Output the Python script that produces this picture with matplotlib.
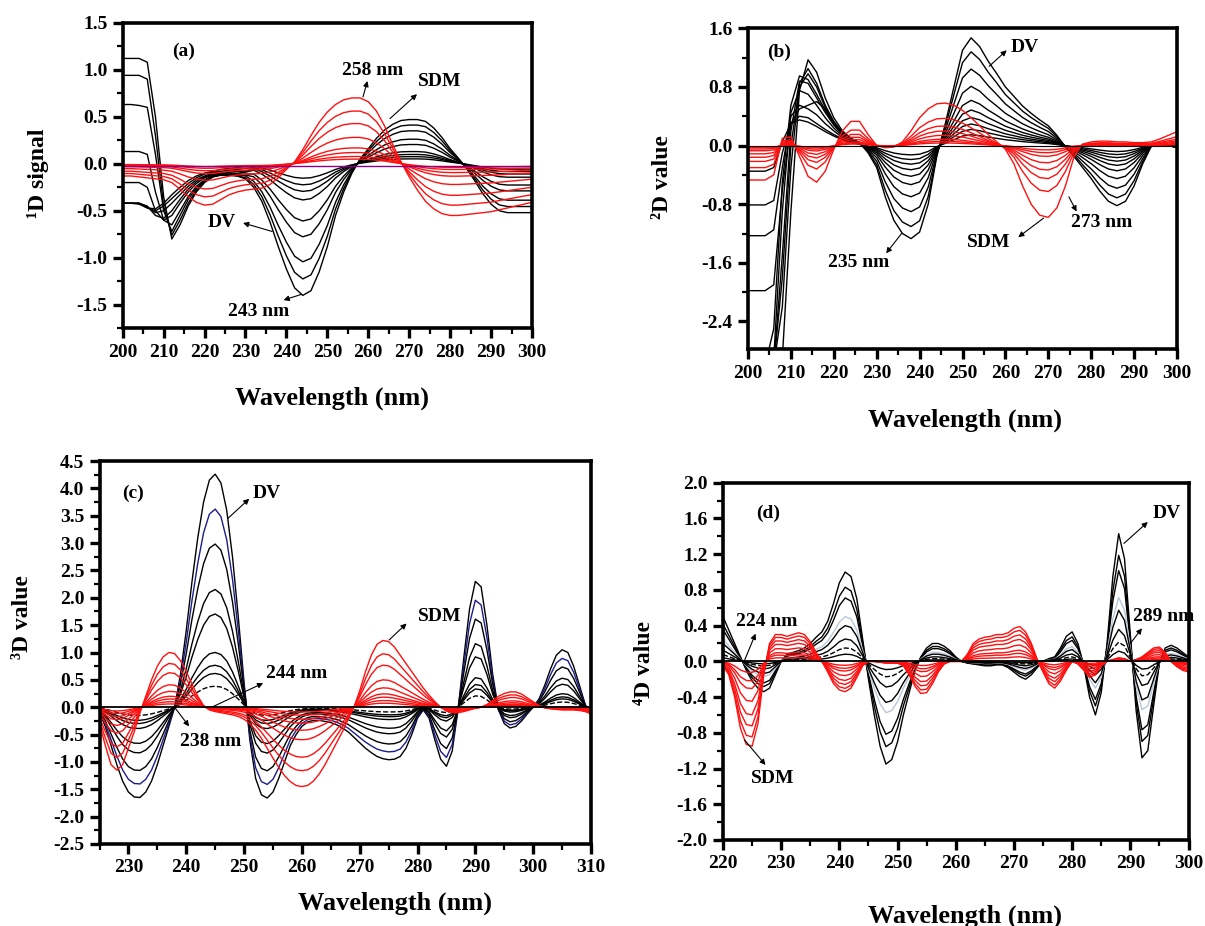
import numpy as np
import matplotlib
matplotlib.use('Agg')
import matplotlib.pyplot as plt
from matplotlib.ticker import MultipleLocator, FormatStrFormatter

plt.rcParams['font.family'] = ['Liberation Serif', 'DejaVu Serif']
plt.rcParams['font.weight'] = 'bold'
plt.rcParams['axes.unicode_minus'] = False

# ---------------- Panel (a): first derivative ----------------
wl_a_left = list(range(200, 231, 2))
dv_a_left = [
    [1.12, 1.12, 1.12, 1.08, 0.5, -0.35, -0.8, -0.65, -0.45, -0.3, -0.2, -0.14, -0.12, -0.12, -0.13, -0.16],
    [0.94, 0.94, 0.94, 0.9, 0.3, -0.45, -0.76, -0.6, -0.42, -0.28, -0.19, -0.14, -0.12, -0.12, -0.13, -0.15],
    [0.63, 0.63, 0.62, 0.6, 0.1, -0.5, -0.72, -0.55, -0.38, -0.26, -0.18, -0.13, -0.12, -0.12, -0.12, -0.13],
    [0.13, 0.13, 0.13, 0.1, -0.3, -0.6, -0.65, -0.5, -0.35, -0.24, -0.17, -0.13, -0.12, -0.12, -0.12, -0.12],
    [-0.2, -0.2, -0.2, -0.25, -0.5, -0.6, -0.55, -0.42, -0.3, -0.21, -0.15, -0.12, -0.11, -0.11, -0.11, -0.11],
    [-0.42, -0.42, -0.42, -0.45, -0.55, -0.58, -0.5, -0.38, -0.27, -0.19, -0.14, -0.11, -0.1, -0.1, -0.1, -0.09],
    [-0.42, -0.42, -0.42, -0.46, -0.52, -0.5, -0.42, -0.33, -0.24, -0.17, -0.13, -0.1, -0.09, -0.09, -0.08, -0.08],
    [-0.42, -0.42, -0.42, -0.47, -0.5, -0.45, -0.37, -0.29, -0.21, -0.15, -0.11, -0.09, -0.08, -0.07, -0.06, -0.05],
    [-0.42, -0.42, -0.43, -0.47, -0.48, -0.42, -0.33, -0.25, -0.18, -0.13, -0.1, -0.08, -0.06, -0.05, -0.04, -0.03],
]
wl_a_base = list(range(232, 301, 2))
dv_a_base = [-0.25, -0.4, -0.62, -0.88, -1.12, -1.32, -1.40, -1.35, -1.15, -0.88,
             -0.55, -0.3, -0.1, 0.05, 0.16, 0.27, 0.36, 0.42, 0.46, 0.47,
             0.47, 0.45, 0.38, 0.28, 0.16, 0.06, -0.05, -0.18, -0.32, -0.43,
             -0.5, -0.52, -0.52, -0.52, -0.52]
dv_a_levels = [1.0, 0.875, 0.745, 0.555, 0.435, 0.275, 0.21, 0.16, 0.11]
wl_a = list(range(200, 301, 2))
sdm_a = [-0.13, -0.13, -0.14, -0.15, -0.16, -0.17, -0.2, -0.27, -0.35, -0.41,
         -0.44, -0.43, -0.38, -0.33, -0.3, -0.28, -0.27, -0.26, -0.22, -0.15,
         -0.06, 0.02, 0.15, 0.3, 0.44, 0.55, 0.63, 0.68, 0.70, 0.70,
         0.66, 0.56, 0.40, 0.2, 0.02, -0.14, -0.28, -0.4, -0.48, -0.53,
         -0.55, -0.55, -0.54, -0.53, -0.52, -0.51, -0.49, -0.47, -0.45, -0.43, -0.41]
sdm_a_levels = [1.0, 0.8, 0.61, 0.4, 0.24, 0.17, 0.11, 0.07]
blank_a_wl = [200, 300]
blank_a = [-0.02, -0.02]

# ---------------- Panel (b): second derivative ----------------
wl_b_left = list(range(200, 227, 2))
dv_b_left = [
    [-3.0, -3.0, -3.0, -3.0, -2.9, -0.9, 0.75, 1.17, 1.0, 0.65, 0.38, 0.2, 0.1, 0.04],
    [-3.0, -3.0, -3.0, -3.0, -2.2, -0.3, 0.85, 1.05, 0.85, 0.55, 0.33, 0.18, 0.09, 0.04],
    [-3.0, -3.0, -3.0, -3.0, -1.5, 0.2, 0.88, 0.85, 0.65, 0.45, 0.28, 0.15, 0.08, 0.03],
    [-3.0, -3.0, -3.0, -2.9, -0.9, 0.45, 0.75, 0.7, 0.55, 0.38, 0.24, 0.13, 0.07, 0.03],
    [-1.98, -1.98, -1.98, -1.9, -0.6, 0.3, 0.5, 0.55, 0.6, 0.5, 0.3, 0.15, 0.07, 0.03],
    [-1.23, -1.23, -1.23, -1.15, -0.3, 0.4, 0.55, 0.5, 0.42, 0.3, 0.2, 0.11, 0.06, 0.02],
    [-0.81, -0.81, -0.81, -0.75, -0.1, 0.3, 0.4, 0.38, 0.3, 0.22, 0.15, 0.09, 0.05, 0.02],
    [-0.35, -0.35, -0.35, -0.3, 0.05, 0.3, 0.35, 0.32, 0.26, 0.19, 0.13, 0.08, 0.04, 0.02],
    [-3.0, -3.0, -3.0, -2.5, -0.5, 0.55, 0.95, 0.9, 0.7, 0.48, 0.3, 0.17, 0.08, 0.03],
    [-3.0, -3.0, -3.0, -3.0, -1.8, 0.0, 0.8, 0.98, 0.8, 0.52, 0.32, 0.17, 0.08, 0.04],
]
wl_b_base = list(range(228, 301, 2))
dv_b_base = [-0.1, -0.3, -0.7, -1.02, -1.2, -1.27, -1.18, -0.8, -0.15, 0.3,
             0.8, 1.3, 1.47, 1.35, 1.15, 0.98, 0.8, 0.67, 0.54, 0.44,
             0.35, 0.27, 0.14, -0.02, -0.15, -0.3, -0.45, -0.62, -0.76, -0.82,
             -0.76, -0.55, -0.25, -0.01, 0.03, 0.0, -0.03]
dv_b_levels = [1.0, 0.87, 0.71, 0.55, 0.42, 0.33, 0.26, 0.2, 0.15, 0.1]
wl_b = list(range(200, 301, 2))
sdm_b = [-0.47, -0.47, -0.47, -0.4, 0.1, 0.12, -0.15, -0.42, -0.5, -0.35,
         -0.05, 0.2, 0.33, 0.33, 0.15, 0.0, -0.03, -0.02, 0.05, 0.2,
         0.38, 0.5, 0.57, 0.58, 0.55, 0.48, 0.38, 0.27, 0.15, 0.05,
         -0.05, -0.25, -0.55, -0.8, -0.95, -0.98, -0.85, -0.55, -0.15, 0.02,
         0.05, 0.06, 0.06, 0.05, 0.05, 0.04, 0.04, 0.05, 0.09, 0.14, 0.19]
sdm_b_levels = [1.0, 0.64, 0.46, 0.34, 0.24, 0.15, 0.1, 0.06]

# ---------------- Panel (c): third derivative ----------------
wl_c = list(range(225, 311))
dv_c = [-0.1, -0.35, -0.7, -1.05, -1.35, -1.55, -1.64, -1.65, -1.55, -1.35,
        -1.05, -0.7, -0.35, 0.0, 0.6, 1.4, 2.3, 3.1, 3.75, 4.15,
        4.26, 4.1, 3.6, 2.75, 1.65, 0.45, -0.6, -1.3, -1.6, -1.66,
        -1.55, -1.3, -1.0, -0.7, -0.5, -0.35, -0.27, -0.24, -0.24, -0.26,
        -0.28, -0.32, -0.38, -0.45, -0.55, -0.65, -0.75, -0.83, -0.9, -0.94,
        -0.96, -0.95, -0.9, -0.75, -0.5, -0.2, -0.05, -0.2, -0.6, -0.95,
        -1.08, -0.8, -0.05, 0.9, 1.8, 2.3, 2.2, 1.5, 0.6, -0.05,
        -0.3, -0.38, -0.35, -0.25, -0.12, 0.0, 0.15, 0.4, 0.7, 0.95,
        1.05, 1.0, 0.75, 0.4, 0.05, -0.15]
dv_c_levels = [1.0, 0.85, 0.7, 0.505, 0.4, 0.235, 0.18, 0.145, 0.09]
sdm_c = [-0.3, -0.7, -1.05, -1.15, -1.05, -0.75, -0.45, -0.1, 0.2, 0.5,
         0.75, 0.92, 1.0, 0.98, 0.85, 0.65, 0.42, 0.2, 0.03, -0.05,
         -0.08, -0.1, -0.12, -0.14, -0.17, -0.22, -0.3, -0.42, -0.57, -0.75,
         -0.93, -1.1, -1.25, -1.36, -1.43, -1.45, -1.43, -1.35, -1.22, -1.05,
         -0.85, -0.65, -0.45, -0.22, 0.0, 0.3, 0.65, 0.95, 1.15, 1.22,
         1.2, 1.1, 0.95, 0.8, 0.65, 0.5, 0.35, 0.22, 0.1, 0.0,
         -0.07, -0.1, -0.1, -0.08, -0.05, -0.02, 0.0, 0.05, 0.12, 0.2,
         0.25, 0.28, 0.28, 0.24, 0.17, 0.1, 0.03, -0.01, -0.03, -0.04,
         -0.05, -0.05, -0.05, -0.06, -0.08, -0.12]
sdm_c_levels = [1.0, 0.8, 0.63, 0.41, 0.29, 0.2, 0.15, 0.1, 0.06]

# ---------------- Panel (d): fourth derivative ----------------
wl_d = list(range(220, 301))
dv_d = [0.5, 0.35, 0.2, 0.05, -0.1, -0.22, -0.3, -0.34, -0.3, -0.15,
        0.0, 0.08, 0.1, 0.12, 0.15, 0.2, 0.27, 0.33, 0.45, 0.65,
        0.88, 1.0, 0.95, 0.7, 0.25, -0.2, -0.6, -0.95, -1.15, -1.1,
        -0.9, -0.6, -0.35, -0.1, 0.05, 0.15, 0.2, 0.2, 0.17, 0.12,
        0.05, 0.0, -0.02, -0.03, -0.04, -0.05, -0.05, -0.04, -0.04, -0.07,
        -0.12, -0.17, -0.2, -0.15, -0.07, 0.0, 0.03, 0.05, 0.15, 0.28,
        0.33, 0.2, -0.05, -0.4, -0.6, -0.35, 0.2, 0.95, 1.43, 1.15,
        0.3, -0.55, -1.08, -1.0, -0.5, -0.02, 0.15, 0.18, 0.15, 0.1,
        0.05]
dv_d_levels = [1.0, 0.83, 0.71, 0.5, 0.4, 0.25, 0.15, 0.08]
sdm_d = [-0.05, -0.15, -0.4, -0.75, -0.93, -0.95, -0.7, -0.15, 0.2, 0.3,
         0.3, 0.28, 0.3, 0.32, 0.3, 0.22, 0.1, 0.0, -0.12, -0.25,
         -0.32, -0.34, -0.3, -0.18, -0.05, 0.0, 0.0, -0.01, -0.02, -0.02,
         -0.02, -0.05, -0.15, -0.28, -0.36, -0.35, -0.25, -0.12, -0.03, 0.0,
         0.0, 0.0, 0.08, 0.2, 0.25, 0.27, 0.28, 0.3, 0.3, 0.32,
         0.37, 0.39, 0.33, 0.2, 0.02, -0.12, -0.25, -0.3, -0.22, -0.1,
         0.0, -0.03, -0.1, -0.18, -0.15, -0.05, 0.0, 0.02, 0.04, 0.03,
         0.0, 0.02, 0.05, 0.1, 0.15, 0.16, 0.1, 0.0, -0.06, -0.1,
         -0.12]
sdm_d_levels = [1.0, 0.89, 0.76, 0.63, 0.47, 0.32, 0.23, 0.13]

assert len(dv_a_base) == len(wl_a_base) and all(len(r) == len(wl_a_left) for r in dv_a_left)
assert len(sdm_a) == len(wl_a) and len(sdm_b) == len(wl_b)
assert len(dv_b_base) == len(wl_b_base) and all(len(r) == len(wl_b_left) for r in dv_b_left)
assert len(dv_c) == len(wl_c) and len(sdm_c) == len(wl_c)
assert len(dv_d) == len(wl_d) and len(sdm_d) == len(wl_d)

# ---------------- Figure ----------------
W, H = 1205, 926
fig = plt.figure(figsize=(W / 100, H / 100), dpi=100)


def add_ax(l, r, t, b):
    return fig.add_axes([l / W, 1 - b / H, (r - l) / W, (b - t) / H])


def style(ax, xlim, ylim, xmaj, xmin, ymaj, ymin):
    ax.set_xlim(*xlim)
    ax.set_ylim(*ylim)
    ax.xaxis.set_major_locator(MultipleLocator(xmaj))
    ax.xaxis.set_minor_locator(MultipleLocator(xmin))
    ax.yaxis.set_major_locator(MultipleLocator(ymaj))
    ax.yaxis.set_minor_locator(MultipleLocator(ymin))
    ax.yaxis.set_major_formatter(FormatStrFormatter('%.1f'))
    ax.tick_params(which='major', direction='out', length=7, width=2.4,
                   labelsize=14, top=False, right=False, pad=4)
    ax.tick_params(which='minor', direction='out', length=4, width=1.6,
                   top=False, right=False)
    for s in ax.spines.values():
        s.set_linewidth(2.6)
    for lab in ax.get_xticklabels() + ax.get_yticklabels():
        lab.set_fontweight('bold')


def arrow(ax, tail, head):
    ax.annotate('', xy=head, xytext=tail,
                arrowprops=dict(arrowstyle='-|>', color='black', lw=0.8,
                                mutation_scale=8, shrinkA=0, shrinkB=0))


LW = 1.0
RED = '#ff1010'
ANN = 14

# ----- (a)
ax = add_ax(122.7, 532, 22.7, 328.3)
for row, lv in zip(dv_a_left, dv_a_levels):
    x = wl_a_left + wl_a_base
    y = list(row) + [lv * v for v in dv_a_base]
    ax.plot(x, y, color='black', lw=LW)
for lv in sdm_a_levels:
    ax.plot(wl_a, [lv * v for v in sdm_a], color=RED, lw=LW)
ax.plot(blank_a_wl, blank_a, color='#8b008b', lw=1.0)
style(ax, (200, 300), (-1.75, 1.5), 10, 5, 0.5, 0.25)
ax.text(214.8, 1.2, '(a)', fontsize=14, ha='center', va='center')
ax.text(261, 0.99, '258 nm', fontsize=ANN, ha='center', va='center')
arrow(ax, (258.7, 0.71), (259.8, 0.88))
ax.text(277.5, 0.87, 'SDM', fontsize=ANN, ha='center', va='center')
arrow(ax, (265.3, 0.48), (271.9, 0.74))
ax.text(224.2, -0.63, 'DV', fontsize=ANN, ha='center', va='center')
arrow(ax, (236.5, -0.72), (229.4, -0.63))
ax.text(233.2, -1.57, '243 nm', fontsize=ANN, ha='center', va='center')
arrow(ax, (243.6, -1.39), (239.3, -1.45))

# ----- (b)
ax = add_ax(748, 1177, 28.3, 349.3)
for row, lv in zip(dv_b_left, dv_b_levels):
    x = wl_b_left + wl_b_base
    y = list(row) + [lv * v for v in dv_b_base]
    ax.plot(x, y, color='black', lw=LW)
for lv in sdm_b_levels:
    ax.plot(wl_b, [lv * v for v in sdm_b], color=RED, lw=LW)
ax.axhline(0, color='black', lw=0.8)
style(ax, (200, 300), (-2.78, 1.6), 10, 5, 0.8, 0.4)
ax.text(207.3, 1.27, '(b)', fontsize=14, ha='center', va='center')
ax.text(264.6, 1.34, 'DV', fontsize=ANN, ha='center', va='center')
arrow(ax, (256.2, 1.08), (260.3, 1.3))
ax.text(225.8, -1.6, '235 nm', fontsize=ANN, ha='center', va='center')
arrow(ax, (235.8, -1.2), (232.2, -1.47))
ax.text(256.2, -1.32, 'SDM', fontsize=ANN, ha='center', va='center')
arrow(ax, (268.9, -0.99), (263.0, -1.25))
ax.text(282.5, -1.05, '273 nm', fontsize=ANN, ha='center', va='center')
arrow(ax, (274.8, -0.7), (276.6, -0.9))

# ----- (c)
ax = add_ax(99.5, 591, 461, 844)
for i, lv in enumerate(dv_c_levels):
    col = '#1c1c8a' if i == 1 else 'black'
    ls = '--' if i == len(dv_c_levels) - 1 else '-'
    ax.plot(wl_c, [lv * v for v in dv_c], color=col, lw=LW, ls=ls)
for lv in sdm_c_levels:
    ax.plot(wl_c, [lv * v for v in sdm_c], color=RED, lw=LW)
ax.axhline(0, color='black', lw=1.3)
style(ax, (225, 310), (-2.5, 4.5), 10, 5, 0.5, 0.25)
ax.text(230.8, 3.9, '(c)', fontsize=14, ha='center', va='center')
ax.text(254.0, 3.9, 'DV', fontsize=ANN, ha='center', va='center')
arrow(ax, (247.2, 3.45), (250.9, 3.81))
ax.text(283.8, 1.65, 'SDM', fontsize=ANN, ha='center', va='center')
arrow(ax, (275.1, 1.23), (278.1, 1.53))
ax.text(259.1, 0.62, '244 nm', fontsize=ANN, ha='center', va='center')
arrow(ax, (244.6, 0.01), (253.3, 0.44))
ax.text(244.2, -0.63, '238 nm', fontsize=ANN, ha='center', va='center')
arrow(ax, (237.9, 0.01), (240.5, -0.35))

# ----- (d)
ax = add_ax(723, 1188.5, 482.7, 840)
for i, lv in enumerate(dv_d_levels):
    col = '#b8c8d8' if i == 3 else 'black'
    ls = '--' if i == len(dv_d_levels) - 2 else '-'
    ax.plot(wl_d, [lv * v for v in dv_d], color=col, lw=LW, ls=ls)
for lv in sdm_d_levels:
    ax.plot(wl_d, [lv * v for v in sdm_d], color=RED, lw=LW)
ax.axhline(0, color='black', lw=1.3)
style(ax, (220, 300), (-2.0, 2.0), 10, 5, 0.4, 0.2)
ax.text(227.8, 1.66, '(d)', fontsize=14, ha='center', va='center')
ax.text(296.2, 1.65, 'DV', fontsize=ANN, ha='center', va='center')
arrow(ax, (288.9, 1.32), (293.0, 1.56))
ax.text(295.7, 0.5, '289 nm', fontsize=ANN, ha='center', va='center')
arrow(ax, (290.0, 0.2), (292.0, 0.37))
ax.text(227.5, 0.45, '224 nm', fontsize=ANN, ha='center', va='center')
arrow(ax, (223.7, 0.01), (225.6, 0.31))
ax.text(228.6, -1.31, 'SDM', fontsize=ANN, ha='center', va='center')
arrow(ax, (223.7, -0.88), (227.3, -1.16))

# ----- axis titles
def ftext(x, y, s, **kw):
    fig.text(x / W, 1 - y / H, s, ha='center', va='center', fontweight='bold', **kw)

ftext(332, 398, 'Wavelength (nm)', fontsize=19)
ftext(965, 420, 'Wavelength (nm)', fontsize=19)
ftext(395, 903, 'Wavelength (nm)', fontsize=19)
ftext(965, 916, 'Wavelength (nm)', fontsize=19)
ftext(38, 173, '\u00b9D signal', fontsize=17, rotation=90)
ftext(662, 177, '\u00b2D value', fontsize=17, rotation=90)
ftext(23, 617, '\u00b3D value', fontsize=17, rotation=90)
ftext(645, 663, '\u2074D value', fontsize=17, rotation=90)

fig.savefig('out.png', dpi=100)
